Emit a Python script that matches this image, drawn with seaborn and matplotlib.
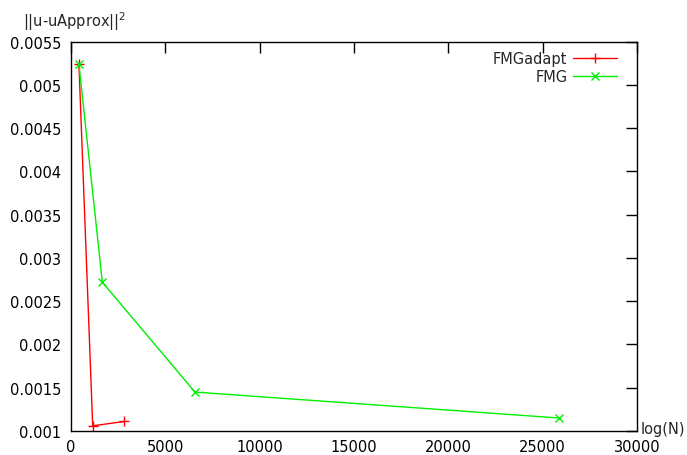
import numpy as np
import pandas as pd
import seaborn as sns
from matplotlib import pyplot as plt
from matplotlib.ticker import FuncFormatter

# 数据（从图上读出来的近似值）
n_adapt = [420, 1150, 2830]
err_adapt = [0.00524, 0.00106, 0.00111]
n_fmg = [420, 1660, 6570, 25880]
err_fmg = [0.00524, 0.00272, 0.00145, 0.00115]

x_ticks = [0, 5000, 10000, 15000, 20000, 25000, 30000]
y_ticks = [0.001, 0.0015, 0.002, 0.0025, 0.003, 0.0035, 0.004, 0.0045, 0.005, 0.0055]

sns.set_style("white")
plt.rcParams['font.family'] = ['DejaVu Sans']
plt.rcParams['font.size'] = 10.5

df_adapt = pd.DataFrame({'N': n_adapt, 'err': err_adapt})
df_fmg = pd.DataFrame({'N': n_fmg, 'err': err_fmg})

fig = plt.figure(figsize=(6.87, 4.56), dpi=100)
ax = fig.add_axes([71/687, 1-432/456, (637-71)/687, (432-42.7)/456])

red = '#ff0000'
green = '#00ee00'
sns.lineplot(data=df_adapt, x='N', y='err', color=red, marker='+', markersize=7,
             markeredgewidth=1, markeredgecolor=red, linewidth=1, sort=False,
             label='FMGadapt', ax=ax)
sns.lineplot(data=df_fmg, x='N', y='err', color=green, marker='x', markersize=6,
             markeredgewidth=1, markeredgecolor=green, linewidth=1, sort=False,
             label='FMG', ax=ax)

ax.set_xlim(0, 30000)
ax.set_ylim(0.001, 0.0055)
ax.set_xticks(x_ticks)
ax.set_yticks(y_ticks)
ax.yaxis.set_major_formatter(FuncFormatter(lambda v, p: '%g' % v))
ax.xaxis.set_major_formatter(FuncFormatter(lambda v, p: '%g' % v))
ax.tick_params(direction='in', length=8, width=1, top=True, right=True,
               labelsize=10.5, colors='black')
ax.tick_params(axis='x', pad=6)
ax.tick_params(axis='y', pad=7)
for s in ax.spines.values():
    s.set_color('black')
    s.set_linewidth(1)

ax.set_xlabel('')
ax.set_ylabel('')
fig.text(23/687, 1-27/456, '||u-uApprox||$^{2}$', fontsize=10.5, ha='left', va='baseline')
fig.text(641/687, 1-430/456, 'log(N)', fontsize=10.5, ha='left', va='center')

ax.legend(loc='upper right', bbox_to_anchor=(0.975, 0.99), frameon=False,
          markerfirst=False, handlelength=3.0, handletextpad=0.4,
          labelspacing=0.2, borderaxespad=0, fontsize=10.5)

fig.savefig('out.png', dpi=100)
